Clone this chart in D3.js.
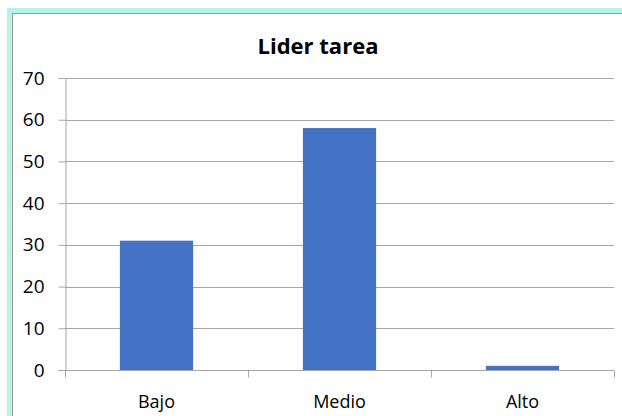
<!DOCTYPE html>
<html>
<head>
<meta charset="utf-8">
<script src="https://cdn.jsdelivr.net/npm/d3@7"></script>
<style>
  body { margin: 0; background: #fff; }
  svg text { font-family: "Open Sans", "Noto Sans", sans-serif; fill: #000; }
</style>
</head>
<body>
<div id="chart"></div>
<script>
// chart data
const categories = ["Bajo", "Medio", "Alto"];
const values = [31, 58, 1];
const yTicks = [0, 10, 20, 30, 40, 50, 60, 70];
const title = "Lider tarea";

const width = 622;
const height = 416;
const margin = { top: 78, right: 8, bottom: 46, left: 65 };

const svg = d3.select("#chart")
  .append("svg")
  .attr("width", width)
  .attr("height", height);

// outer frame: mint band with a thin grey inner line
svg.append("rect")
  .attr("x", 7).attr("y", 8)
  .attr("width", width).attr("height", height)
  .attr("fill", "#b3f5e6");
svg.append("rect")
  .attr("x", 12.5).attr("y", 13.5)
  .attr("width", width).attr("height", height)
  .attr("fill", "#fff")
  .attr("stroke", "#999")
  .attr("stroke-width", 1);

const x = d3.scaleBand()
  .domain(categories)
  .range([margin.left, width - margin.right])
  .paddingInner(0.6)
  .paddingOuter(0.3);

const xOuter = d3.scaleBand()
  .domain(categories)
  .range([margin.left, width - margin.right]);

const y = d3.scaleLinear()
  .domain([0, 70])
  .range([height - margin.bottom, margin.top]);

// gridlines
svg.append("g")
  .selectAll("line")
  .data(yTicks.filter(d => d > 0))
  .enter()
  .append("line")
  .attr("x1", margin.left)
  .attr("x2", width - margin.right)
  .attr("y1", d => Math.round(y(d)) + 0.5)
  .attr("y2", d => Math.round(y(d)) + 0.5)
  .attr("stroke", "#a6a6a6")
  .attr("stroke-width", 1);

// bars
svg.append("g")
  .selectAll("rect")
  .data(values)
  .enter()
  .append("rect")
  .attr("x", (d, i) => x(categories[i]))
  .attr("y", d => y(d))
  .attr("width", x.bandwidth())
  .attr("height", d => y(0) - y(d))
  .attr("fill", "#4472c4");

// y axis
const yAxis = svg.append("g")
  .attr("transform", `translate(${margin.left + 0.5},0)`)
  .call(d3.axisLeft(y).tickValues(yTicks).tickSize(7).tickPadding(14));
yAxis.attr("font-size", null).attr("font-family", null);
yAxis.select(".domain").attr("stroke", "#a6a6a6");
yAxis.selectAll(".tick line").attr("stroke", "#a6a6a6");
yAxis.selectAll(".tick text")
  .attr("fill", "#000")
  .style("font-size", "19px");

// x axis line and ticks at category boundaries
const baseY = Math.round(y(0)) + 0.5;
svg.append("line")
  .attr("x1", margin.left)
  .attr("x2", width - margin.right)
  .attr("y1", baseY).attr("y2", baseY)
  .attr("stroke", "#a6a6a6");

const boundaries = categories.map(c => xOuter(c)).concat([width - margin.right]);
svg.append("g")
  .selectAll("line")
  .data(boundaries)
  .enter()
  .append("line")
  .attr("x1", d => Math.round(d) + 0.5)
  .attr("x2", d => Math.round(d) + 0.5)
  .attr("y1", baseY)
  .attr("y2", baseY + 7)
  .attr("stroke", "#a6a6a6");

// category labels
svg.append("g")
  .selectAll("text")
  .data(categories)
  .enter()
  .append("text")
  .attr("x", d => xOuter(d) + xOuter.bandwidth() / 2)
  .attr("y", 408)
  .attr("text-anchor", "middle")
  .style("font-size", "18px")
  .text(d => d);

// title
svg.append("text")
  .attr("x", 318)
  .attr("y", 54)
  .attr("text-anchor", "middle")
  .style("font-size", "22px")
  .style("font-weight", "bold")
  .text(title);
</script>
</body>
</html>
